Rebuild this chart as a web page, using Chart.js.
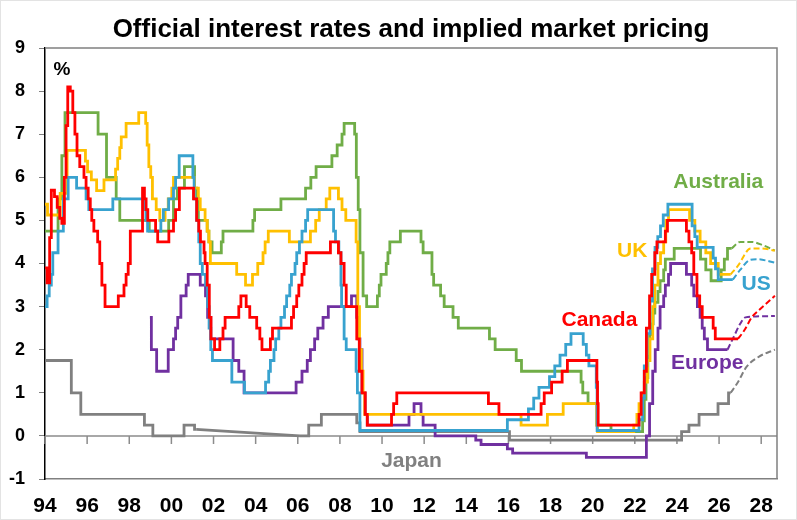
<!DOCTYPE html>
<html>
<head>
<meta charset="utf-8">
<title>Official interest rates and implied market pricing</title>
<script src="https://cdn.jsdelivr.net/npm/chart.js@4.4.1/dist/chart.umd.min.js"></script>
<style>
    html, body { margin: 0; padding: 0; background: #fff; }
    canvas { display: block; }
</style>
</head>
<body>
<canvas id="ratesChart" width="797" height="520"></canvas>
<script>
// x axis: decimal years, labelled every second January
const tickYears = [1994, 1996, 1998, 2000, 2002, 2004, 2006, 2008, 2010, 2012, 2014, 2016, 2018, 2020, 2022, 2024, 2026, 2028]
const tickLabels = ['94', '96', '98', '00', '02', '04', '06', '08', '10', '12', '14', '16', '18', '20', '22', '24', '26', '28']

// official rates, [date of change, new rate]
const canada = [
    [1994.0, 3.9], [1994.1, 3.55], [1994.22, 4.6], [1994.3, 5.7], [1994.45, 5.55], [1994.58, 5.3], [1994.7, 5.05],
    [1994.8, 4.93], [1994.92, 6.0], [1995.0, 7.2], [1995.08, 8.1], [1995.2, 8.0], [1995.32, 7.5], [1995.42, 7.0],
    [1995.52, 6.5], [1995.65, 6.25], [1995.85, 6.0], [1995.95, 5.75], [1996.05, 5.5], [1996.15, 5.25], [1996.22, 5.0],
    [1996.32, 4.75], [1996.5, 4.5], [1996.6, 4.0], [1996.7, 3.5], [1996.85, 3.0], [1997.48, 3.25], [1997.75, 3.5],
    [1997.85, 3.75], [1997.95, 4.0], [1998.05, 4.75], [1998.63, 5.75], [1998.72, 5.5], [1998.8, 5.25], [1998.88, 5.0],
    [1999.25, 4.75], [1999.35, 4.5], [1999.88, 4.75], [2000.1, 5.0], [2000.2, 5.25], [2000.38, 5.75], [2001.05, 5.5],
    [2001.2, 5.0], [2001.3, 4.75], [2001.38, 4.5], [2001.55, 4.25], [2001.6, 4.0], [2001.7, 3.5], [2001.8, 2.75],
    [2001.88, 2.25], [2002.05, 2.0], [2002.3, 2.25], [2002.45, 2.5], [2002.55, 2.75], [2003.2, 3.0], [2003.3, 3.25],
    [2003.55, 3.0], [2003.72, 2.75], [2004.05, 2.5], [2004.2, 2.25], [2004.3, 2.0], [2004.7, 2.25], [2004.8, 2.5],
    [2005.7, 2.75], [2005.8, 3.0], [2005.95, 3.25], [2006.05, 3.5], [2006.2, 3.75], [2006.3, 4.0], [2006.4, 4.25],
    [2007.55, 4.5], [2007.93, 4.25], [2008.05, 4.0], [2008.2, 3.5], [2008.3, 3.0], [2008.8, 2.25], [2008.92, 1.5],
    [2009.05, 1.0], [2009.2, 0.5], [2009.3, 0.25], [2010.45, 0.5], [2010.55, 0.75], [2010.7, 1.0], [2015.05, 0.75],
    [2015.55, 0.5], [2017.55, 0.75], [2017.7, 1.0], [2018.05, 1.25], [2018.55, 1.5], [2018.8, 1.75], [2020.2, 1.25],
    [2020.23, 0.75], [2020.26, 0.25], [2022.2, 0.5], [2022.3, 1.0], [2022.45, 1.5], [2022.55, 2.5], [2022.7, 3.25],
    [2022.8, 3.75], [2022.95, 4.25], [2023.05, 4.5], [2023.45, 4.75], [2023.55, 5.0], [2024.45, 4.75], [2024.57, 4.5],
    [2024.7, 4.25], [2024.8, 3.75], [2024.95, 3.25], [2025.08, 3.0], [2025.2, 2.75], [2025.72, 2.5], [2025.82, 2.25],
    [2026.9, 2.25]
]
const us = [
    [1994.0, 3.0], [1994.1, 3.25], [1994.2, 3.5], [1994.3, 3.75], [1994.37, 4.25], [1994.62, 4.75], [1994.87, 5.5],
    [1995.1, 6.0], [1995.5, 5.75], [1995.95, 5.5], [1996.08, 5.25], [1997.22, 5.5], [1998.72, 5.25], [1998.79, 5.0],
    [1998.87, 4.75], [1999.5, 5.0], [1999.62, 5.25], [1999.87, 5.5], [2000.1, 5.75], [2000.2, 6.0], [2000.37, 6.5],
    [2001.02, 6.0], [2001.08, 5.5], [2001.2, 5.0], [2001.3, 4.5], [2001.37, 4.0], [2001.47, 3.75], [2001.62, 3.5],
    [2001.72, 3.0], [2001.79, 2.5], [2001.87, 2.0], [2001.95, 1.75], [2002.87, 1.25], [2003.47, 1.0], [2004.47, 1.25],
    [2004.62, 1.5], [2004.7, 1.75], [2004.87, 2.0], [2004.95, 2.25], [2005.1, 2.5], [2005.2, 2.75], [2005.37, 3.0],
    [2005.47, 3.25], [2005.62, 3.5], [2005.7, 3.75], [2005.87, 4.0], [2005.95, 4.25], [2006.08, 4.5], [2006.2, 4.75],
    [2006.37, 5.0], [2006.47, 5.25], [2007.7, 4.75], [2007.79, 4.5], [2007.95, 4.25], [2008.05, 3.5], [2008.08, 3.0],
    [2008.2, 2.25], [2008.3, 2.0], [2008.77, 1.5], [2008.83, 1.0], [2008.95, 0.125], [2015.95, 0.375], [2016.95, 0.625],
    [2017.2, 0.875], [2017.45, 1.125], [2017.95, 1.375], [2018.2, 1.625], [2018.45, 1.875], [2018.72, 2.125],
    [2018.97, 2.375], [2019.55, 2.125], [2019.7, 1.875], [2019.82, 1.625], [2020.17, 1.125], [2020.21, 0.125],
    [2022.2, 0.375], [2022.37, 0.875], [2022.45, 1.625], [2022.57, 2.375], [2022.72, 3.125], [2022.84, 3.875],
    [2022.96, 4.375], [2023.09, 4.625], [2023.22, 4.875], [2023.35, 5.125], [2023.57, 5.375], [2024.72, 4.875],
    [2024.85, 4.625], [2024.96, 4.375], [2025.72, 4.125], [2025.83, 3.875], [2025.96, 3.625], [2026.65, 3.625]
]
const uk = [
    [1994.0, 5.375], [1994.12, 5.125], [1994.72, 5.625], [1995.05, 6.625], [1995.92, 6.375], [1996.02, 6.125],
    [1996.2, 5.94], [1996.45, 5.69], [1996.8, 5.94], [1997.35, 6.19], [1997.45, 6.44], [1997.55, 6.69], [1997.62, 6.94],
    [1997.85, 7.25], [1998.45, 7.5], [1998.78, 7.25], [1998.85, 6.75], [1998.93, 6.25], [1999.02, 6.0], [1999.1, 5.5],
    [1999.28, 5.25], [1999.45, 5.0], [1999.7, 5.25], [1999.85, 5.5], [2000.02, 5.75], [2000.1, 6.0], [2001.1, 5.75],
    [2001.28, 5.5], [2001.37, 5.25], [2001.6, 5.0], [2001.7, 4.75], [2001.78, 4.5], [2001.85, 4.0], [2003.1, 3.75],
    [2003.52, 3.5], [2003.85, 3.75], [2004.1, 4.0], [2004.35, 4.25], [2004.45, 4.5], [2004.6, 4.75], [2005.6, 4.5],
    [2006.6, 4.75], [2006.85, 5.0], [2007.02, 5.25], [2007.35, 5.5], [2007.52, 5.75], [2007.93, 5.5], [2008.1, 5.25],
    [2008.28, 5.0], [2008.77, 4.5], [2008.85, 3.0], [2008.93, 2.0], [2009.02, 1.5], [2009.1, 1.0], [2009.18, 0.5],
    [2016.6, 0.25], [2017.85, 0.5], [2018.6, 0.75], [2020.2, 0.25], [2020.23, 0.1], [2021.95, 0.25], [2022.1, 0.5],
    [2022.2, 0.75], [2022.35, 1.0], [2022.45, 1.25], [2022.6, 1.75], [2022.72, 2.25], [2022.85, 3.0], [2022.95, 3.5],
    [2023.1, 4.0], [2023.22, 4.25], [2023.37, 4.5], [2023.47, 5.0], [2023.6, 5.25], [2024.6, 5.0], [2024.85, 4.75],
    [2025.1, 4.5], [2025.37, 4.25], [2025.6, 4.0], [2025.96, 3.75], [2026.55, 3.75]
]
const australia = [
    [1994.0, 4.75], [1994.62, 5.5], [1994.8, 6.5], [1994.95, 7.5], [1996.52, 7.0], [1996.92, 6.0], [1997.38, 5.5],
    [1997.55, 5.0], [1998.95, 4.75], [1999.87, 5.0], [2000.1, 5.5], [2000.28, 5.75], [2000.62, 6.25], [2001.1, 5.75],
    [2001.2, 5.5], [2001.28, 5.0], [2001.7, 4.75], [2001.78, 4.5], [2001.93, 4.25], [2002.37, 4.5], [2002.45, 4.75],
    [2003.87, 5.0], [2003.95, 5.25], [2005.2, 5.5], [2006.37, 5.75], [2006.62, 6.0], [2006.87, 6.25], [2007.62, 6.5],
    [2007.87, 6.75], [2008.1, 7.0], [2008.2, 7.25], [2008.7, 7.0], [2008.78, 6.0], [2008.87, 5.25], [2008.95, 4.25],
    [2009.1, 3.25], [2009.27, 3.0], [2009.78, 3.25], [2009.87, 3.5], [2009.95, 3.75], [2010.2, 4.0], [2010.28, 4.25],
    [2010.37, 4.5], [2010.87, 4.75], [2011.85, 4.5], [2011.95, 4.25], [2012.37, 3.75], [2012.45, 3.5], [2012.78, 3.25],
    [2012.95, 3.0], [2013.37, 2.75], [2013.62, 2.5], [2015.1, 2.25], [2015.37, 2.0], [2016.37, 1.75], [2016.62, 1.5],
    [2019.45, 1.25], [2019.53, 1.0], [2019.78, 0.75], [2020.2, 0.25], [2020.87, 0.1], [2022.37, 0.35], [2022.45, 0.85],
    [2022.53, 1.35], [2022.62, 1.85], [2022.7, 2.35], [2022.78, 2.6], [2022.87, 2.85], [2022.95, 3.1], [2023.1, 3.35],
    [2023.2, 3.6], [2023.37, 3.85], [2023.45, 4.1], [2023.87, 4.35], [2025.12, 4.1], [2025.37, 3.85], [2025.62, 3.6],
    [2026.1, 3.85], [2026.25, 4.1], [2026.4, 4.35], [2026.6, 4.35]
]
const europe = [
    [1998.98, 2.75], [1999.05, 2.0], [1999.3, 1.5], [1999.85, 2.0], [2000.1, 2.25], [2000.2, 2.5], [2000.3, 2.75],
    [2000.45, 3.25], [2000.7, 3.5], [2000.8, 3.75], [2001.37, 3.5], [2001.62, 3.25], [2001.72, 2.75], [2001.87, 2.25],
    [2002.93, 1.75], [2003.2, 1.5], [2003.45, 1.0], [2005.92, 1.25], [2006.2, 1.5], [2006.45, 1.75], [2006.6, 2.0],
    [2006.8, 2.25], [2006.95, 2.5], [2007.2, 2.75], [2007.45, 3.0], [2008.55, 3.25], [2008.8, 2.75], [2008.85, 2.25],
    [2008.95, 2.0], [2009.05, 1.0], [2009.2, 0.5], [2009.3, 0.25], [2011.28, 0.5], [2011.52, 0.75], [2011.85, 0.5],
    [2011.95, 0.25], [2012.52, 0.0], [2014.45, -0.1], [2014.7, -0.2], [2015.95, -0.3], [2016.2, -0.4], [2019.7, -0.5],
    [2022.55, 0.0], [2022.7, 0.75], [2022.85, 1.5], [2022.97, 2.0], [2023.1, 2.5], [2023.2, 3.0], [2023.37, 3.25],
    [2023.45, 3.5], [2023.6, 3.75], [2023.7, 4.0], [2024.45, 3.75], [2024.7, 3.5], [2024.8, 3.25], [2024.97, 3.0],
    [2025.1, 2.75], [2025.2, 2.5], [2025.3, 2.25], [2025.45, 2.0], [2026.4, 2.0]
]
// null breaks the step line where the sloped 2001-2006 stretch takes over
const japan = [
    [1994.0, 1.75], [1995.25, 1.0], [1995.7, 0.5], [1998.72, 0.25], [1999.12, 0.0], [2000.6, 0.25], [2001.1, 0.15],
    [2001.18, 0.15], [2001.2, null], [2006.1, 0.0], [2006.52, 0.25], [2007.12, 0.5], [2008.8, 0.3], [2008.95, 0.1],
    [2016.05, -0.1], [2024.22, 0.1], [2024.57, 0.25], [2025.05, 0.5], [2025.95, 0.75], [2026.45, 1.0], [2026.55, 1.0]
]
const japanQe = [[2001.18, 0.15], [2006.1, 0.0]]

// implied market pricing
const canadaFwd = [[2026.9, 2.25], [2027.2, 2.45], [2027.55, 2.75], [2027.9, 2.92], [2028.65, 3.25]]
const usFwd = [[2026.65, 3.625], [2027.0, 3.85], [2027.45, 4.08], [2027.8, 4.1], [2028.65, 4.02]]
const ukFwd = [[2026.55, 3.75], [2026.9, 3.95], [2027.5, 4.35], [2028.0, 4.35], [2028.65, 4.3]]
const australiaFwd = [[2026.6, 4.35], [2027.0, 4.5], [2027.55, 4.5], [2028.1, 4.42], [2028.65, 4.3]]
const europeFwd = [[2026.4, 2.0], [2026.7, 2.3], [2027.0, 2.6], [2027.25, 2.75], [2028.65, 2.78]]
const japanFwd = [[2026.55, 1.0], [2026.9, 1.25], [2027.3, 1.6], [2027.9, 1.84], [2028.65, 2.0]]

const colors = {
    australia: '#70AD47',
    uk: '#FFC000',
    us: '#38A2CF',
    canada: '#FF0000',
    europe: '#7030A0',
    japan: '#808080'
}

const seriesLabels = [
    { text: 'Australia', color: colors.australia, x: 2025.96, y: 5.75 },
    { text: 'UK', color: colors.uk, x: 2021.88, y: 4.15 },
    { text: 'US', color: colors.us, x: 2027.76, y: 3.38 },
    { text: 'Canada', color: colors.canada, x: 2020.32, y: 2.55 },
    { text: 'Europe', color: colors.europe, x: 2025.44, y: 1.55 },
    { text: 'Japan', color: colors.japan, x: 2011.4, y: -0.73 }
]

const FONT = '"Liberation Sans", Arial, sans-serif'
Chart.defaults.font.family = FONT

const pts = arr => arr.map(([x, y]) => ({ x, y }))

function solid(label, arr, color) {
    return { label, data: pts(arr), borderColor: color, borderWidth: 2.8, stepped: true, pointRadius: 0, fill: false }
}

function dashed(label, arr, color) {
    return {
        label, data: pts(arr), borderColor: color, borderWidth: 2, borderDash: [6, 3],
        cubicInterpolationMode: 'monotone', pointRadius: 0, fill: false
    }
}

const frame = {
    id: 'frame',
    beforeDatasetsDraw(chart) {
        const { ctx, chartArea: a, scales: { x, y } } = chart
        const y0 = y.getPixelForValue(0)
        ctx.save()
        ctx.strokeStyle = '#8c8c8c'
        ctx.lineWidth = 1.5
        ctx.beginPath()
        ctx.moveTo(a.left, y0)
        ctx.lineTo(a.right, y0)
        tickYears.forEach(t => {
            const px = x.getPixelForValue(t)
            ctx.moveTo(px, y0)
            ctx.lineTo(px, y0 + 8)
        })
        ctx.stroke()
        ctx.restore()
    },
    afterDraw(chart) {
        const { ctx, chartArea: a, scales: { x, y } } = chart
        ctx.save()
        ctx.strokeStyle = '#808080'
        ctx.lineWidth = 1.5
        ctx.beginPath()
        ctx.moveTo(a.left, a.top)
        ctx.lineTo(a.right, a.top)
        ctx.lineTo(a.right, a.bottom)
        ctx.stroke()

        ctx.strokeStyle = '#e3e3e3'
        ctx.lineWidth = 1
        ctx.strokeRect(0.5, 0.5, chart.width - 1, chart.height - 1)

        ctx.fillStyle = '#000'
        ctx.textAlign = 'center'
        ctx.textBaseline = 'alphabetic'
        ctx.font = 'bold 26px ' + FONT
        ctx.fillText('Official interest rates and implied market pricing', (a.left + a.right) / 2, 37)

        ctx.font = 'bold 19px ' + FONT
        ctx.fillText('%', x.getPixelForValue(1994.8), y.getPixelForValue(8.38))

        ctx.font = 'bold 21px ' + FONT
        seriesLabels.forEach(l => {
            ctx.fillStyle = l.color
            ctx.fillText(l.text, x.getPixelForValue(l.x), y.getPixelForValue(l.y))
        })
        ctx.restore()
    }
}

new Chart(document.getElementById('ratesChart'), {
    type: 'line',
    data: {
        datasets: [
            solid('Canada', canada, colors.canada),
            solid('US', us, colors.us),
            solid('UK', uk, colors.uk),
            solid('Australia', australia, colors.australia),
            solid('Europe', europe, colors.europe),
            solid('Japan', japan, colors.japan),
            { label: 'Japan', data: pts(japanQe), borderColor: colors.japan, borderWidth: 2.8, pointRadius: 0 },
            dashed('Canada pricing', canadaFwd, colors.canada),
            dashed('US pricing', usFwd, colors.us),
            dashed('UK pricing', ukFwd, colors.uk),
            dashed('Australia pricing', australiaFwd, colors.australia),
            dashed('Europe pricing', europeFwd, colors.europe),
            dashed('Japan pricing', japanFwd, colors.japan)
        ]
    },
    options: {
        responsive: false,
        animation: false,
        layout: { padding: { top: 48, right: 20, bottom: 0, left: 0 } },
        plugins: { legend: { display: false }, tooltip: { enabled: false } },
        scales: {
            x: {
                type: 'linear',
                min: 1994,
                max: 2028.75,
                afterBuildTicks: s => { s.ticks = tickYears.map(v => ({ value: v })) },
                afterFit: s => { s.height = 41 },
                ticks: {
                    callback: (v, i) => tickLabels[i],
                    autoSkip: false,
                    maxRotation: 0,
                    padding: 15,
                    color: '#000',
                    font: { size: 21, weight: 'bold' }
                },
                grid: { display: false, drawTicks: false },
                border: { color: '#808080', width: 1.5 }
            },
            y: {
                min: -1,
                max: 9,
                afterFit: s => { s.width = 45 },
                ticks: { stepSize: 1, padding: 14, color: '#000', font: { size: 18, weight: 'bold' } },
                grid: { drawOnChartArea: false, drawTicks: true, tickLength: 6, color: '#808080' },
                border: { color: '#000', width: 1.5 }
            }
        }
    },
    plugins: [frame]
})
</script>
</body>
</html>
